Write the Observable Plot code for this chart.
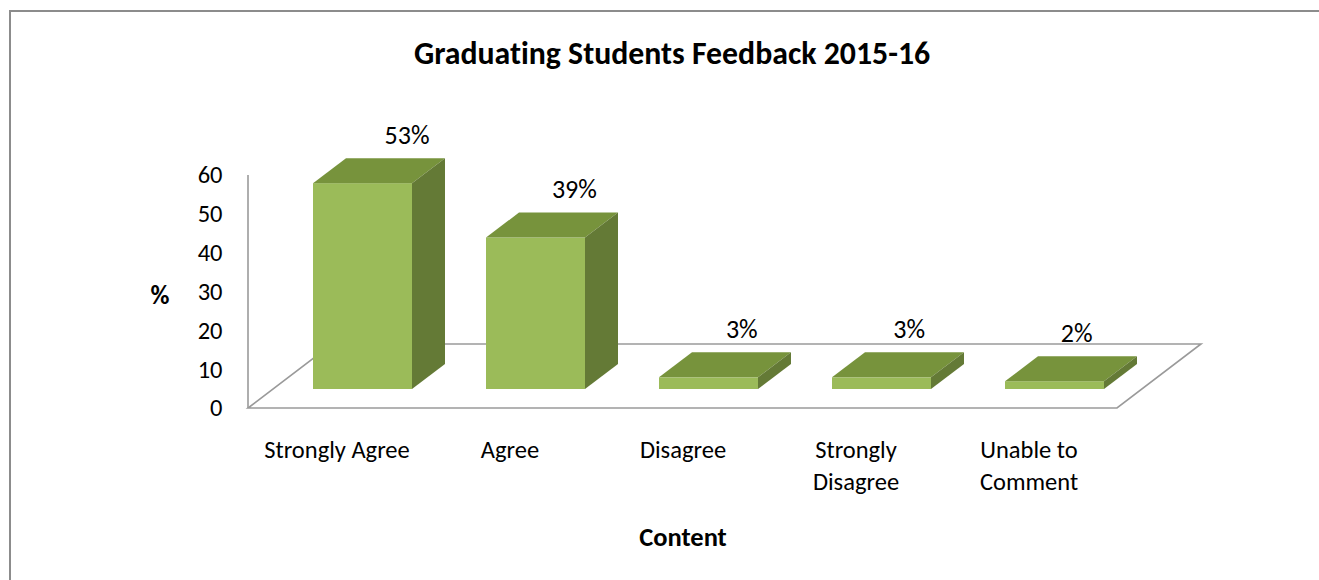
<!DOCTYPE html>
<html>
<head>
<meta charset="utf-8">
<script src="https://cdn.jsdelivr.net/npm/d3@7"></script>
<script src="https://cdn.jsdelivr.net/npm/@observablehq/plot@0.6"></script>
<style>
  html, body { margin: 0; padding: 0; background: #ffffff; }
  #wrap { position: relative; width: 1319px; height: 580px; overflow: hidden; font-family: Carlito, Calibri, Lato, sans-serif; font-variant-ligatures: none; }
  #frame { position: absolute; left: 9px; top: 10px; right: -4px; bottom: -10px; border-left: 2px solid #8c8c8c; border-top: 2px solid #8c8c8c; }
  #title { position: absolute; left: 0; top: 32px; width: 1344px; text-align: center; font-weight: bold; font-size: 31.8px; color: #000; line-height: 44px; }
  #chart { position: absolute; left: 0; top: 0; }
  #chart svg text { font-variant-ligatures: none; }
</style>
</head>
<body>
<div id="wrap">
  <div id="frame"></div>
  <div id="chart"></div>
  <div id="title">Graduating Students Feedback 2015-16</div>
</div>
<script>
// ---- data ----
const categories = ["Strongly Agree", "Agree", "Disagree", "Strongly Disagree", "Unable to Comment"];
const tickLabels = ["Strongly Agree", "Agree", "Disagree", "Strongly\nDisagree", "Unable to\nComment"];
const values = [53, 39, 3, 3, 2];
const valueLabels = ["53%", "39%", "3%", "3%", "2%"];
const yTicks = [0, 10, 20, 30, 40, 50, 60];
const xTitle = "Content";
const yTitle = "%";

const rows = categories.map((c, i) => ({cat: c, value: values[i], label: valueLabels[i], tick: tickLabels[i]}));

// ---- styling constants ----
const FONT = "Carlito, Calibri, Lato, sans-serif";
const FRONT = "#9BBB59", TOP = "#77933C", SIDE = "#647A36", GRID = "#9a9a9a";
const LIFT = 19;                     // bars sit recessed from the floor front edge
const DEPTH_X = 33, DEPTH_Y = -25;   // bar depth
const FLOOR_X = 84, FLOOR_Y = -64;   // floor depth
const INSET_L = 63, INSET_R = 11;
const FS = 24.5;

// floor + y axis line
function floor(index, scales, values, dim) {
  const {y} = scales;
  const x0 = dim.marginLeft, x1 = dim.width - dim.marginRight, y0 = y(0);
  const g = d3.create("svg:g");
  g.append("path")
    .attr("d", `M${x0},${y0}L${x1},${y0}L${x1 + FLOOR_X},${y0 + FLOOR_Y}L${x0 + FLOOR_X},${y0 + FLOOR_Y}Z`)
    .attr("fill", "none").attr("stroke", GRID).attr("stroke-width", 1.6);
  g.append("line")
    .attr("x1", x0).attr("x2", x0).attr("y1", y(60)).attr("y2", y0)
    .attr("stroke", GRID).attr("stroke-width", 1.6);
  return g.node();
}

// top and side faces of each bar
function faces(index, scales, values, dim) {
  const {x, y} = scales;
  const bw = x.bandwidth();
  const g = d3.create("svg:g");
  for (const r of rows) {
    const xl = x(r.cat) + INSET_L, xr = x(r.cat) + bw - INSET_R;
    const yt = y(r.value) - LIFT, yb = y(0) - LIFT;
    g.append("path")
      .attr("d", `M${xl},${yt}L${xr},${yt}L${xr + DEPTH_X},${yt + DEPTH_Y}L${xl + DEPTH_X},${yt + DEPTH_Y}Z`)
      .attr("fill", TOP);
    g.append("path")
      .attr("d", `M${xr},${yt}L${xr + DEPTH_X},${yt + DEPTH_Y}L${xr + DEPTH_X},${yb + DEPTH_Y}L${xr},${yb}Z`)
      .attr("fill", SIDE);
  }
  return g.node();
}

const chart = Plot.plot({
  width: 1319,
  height: 580,
  marginLeft: 248,
  marginRight: 202,
  marginTop: 175,
  marginBottom: 172,
  style: {background: "transparent", fontFamily: FONT, fontSize: FS + "px", color: "#000", overflow: "visible"},
  x: {domain: categories, padding: 0, axis: null},
  y: {domain: [0, 60], axis: null},
  marks: [
    floor,
    Plot.barY(rows, {x: "cat", y: "value", fill: FRONT, insetLeft: INSET_L, insetRight: INSET_R, dy: -LIFT}),
    faces,
    // y tick labels
    Plot.text(yTicks, {y: d => d, frameAnchor: "left", dx: -26, textAnchor: "end", text: d => String(d), fontSize: FS, fill: "#000"}),
    // y title
    Plot.text([yTitle], {frameAnchor: "left", dx: -98, dy: 4, text: d => d, fontWeight: "bold", fontSize: 26, fill: "#000"}),
    // x tick labels
    Plot.text(rows, {x: "cat", y: 0, text: "tick", dy: 27, lineAnchor: "top", lineHeight: 1.31, fontSize: FS, fill: "#000"}),
    // x title
    Plot.text([xTitle], {frameAnchor: "bottom", dy: 137, text: d => d, fontWeight: "bold", fontSize: 26.5, fill: "#000"}),
    // value labels
    ...rows.map((r, i) => Plot.text([r], {x: "cat", y: "value", text: "label", dx: 70 - 5.6 * i, dy: -LIFT - 48, fontSize: 26, fill: "#000"}))
  ]
});
document.getElementById("chart").appendChild(chart);
</script>
</body>
</html>
